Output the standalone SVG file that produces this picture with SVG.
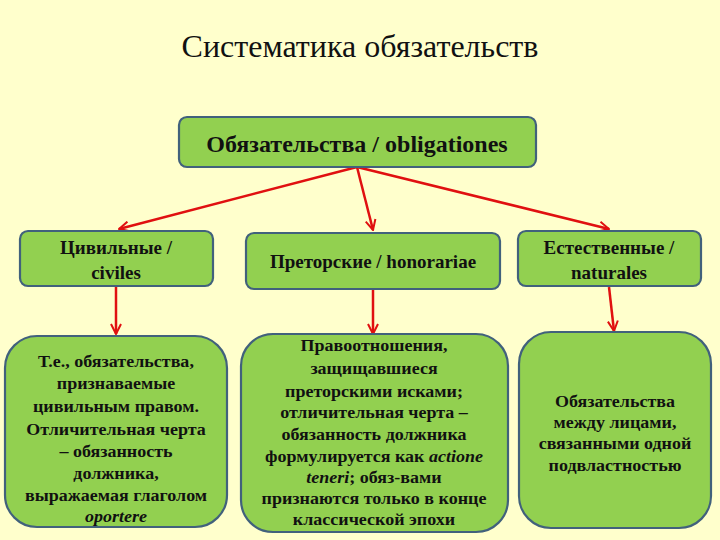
<svg xmlns="http://www.w3.org/2000/svg" width="720" height="540" viewBox="0 0 720 540">
<defs>
<marker id="ah" viewBox="0 0 12 12" refX="11" refY="6" markerWidth="12" markerHeight="12" markerUnits="userSpaceOnUse" orient="auto">
<path d="M1,1 L11,6 L1,11" fill="none" stroke="#E01010" stroke-width="2"/>
</marker>
<style>
.bx{fill:#92D050;stroke:#41617C;stroke-width:2.2}
.t{font-family:"Liberation Serif","Times New Roman",serif;font-weight:bold;fill:#111;text-anchor:middle}
.s{font-size:17px}
.m{font-size:19px}
.c{stroke:#E01010;stroke-width:2.5;fill:none;marker-end:url(#ah)}
</style>
</defs>
<rect width="720" height="540" fill="#FFFFCC"/>
<text x="360" y="57" font-family="Liberation Serif,serif" font-size="32" text-anchor="middle" fill="#111">Систематика обязательств</text>

<g id="connectors">
<line class="c" x1="357" y1="167" x2="119" y2="229"/>
<line class="c" x1="357" y1="167" x2="373" y2="230"/>
<line class="c" x1="357" y1="167" x2="609" y2="229"/>
<line class="c" x1="116" y1="287" x2="116" y2="334"/>
<line class="c" x1="373" y1="289" x2="373" y2="334"/>
<line class="c" x1="609" y1="287" x2="614" y2="331"/>
</g>

<g id="root">
<rect class="bx" x="179" y="117" width="357" height="50" rx="8"/>
<text class="t" x="357" y="152" font-size="24">Обязательства / obligationes</text>
</g>

<g id="civiles">
<rect class="bx" x="20" y="231" width="193" height="55" rx="8"/>
<text class="t m" x="116" y="254">Цивильные /</text>
<text class="t m" x="116" y="279">civiles</text>
</g>

<g id="honorariae">
<rect class="bx" x="246" y="233" width="254" height="56" rx="8"/>
<text class="t m" x="373" y="268">Преторские / honorariae</text>
</g>

<g id="naturales">
<rect class="bx" x="518" y="231" width="183" height="55" rx="8"/>
<text class="t m" x="609" y="254">Естественные /</text>
<text class="t m" x="609" y="279">naturales</text>
</g>

<g id="civiles-desc">
<rect class="bx" x="5" y="336" width="222" height="191" rx="32"/>
<g transform="translate(116 0) scale(1.06 1)">
<text class="t s" x="0" y="367">Т.е., обязательства,</text>
<text class="t s" x="0" y="389">признаваемые</text>
<text class="t s" x="0" y="412">цивильным правом.</text>
<text class="t s" x="0" y="435">Отличительная черта</text>
<text class="t s" x="0" y="457">– обязанность</text>
<text class="t s" x="0" y="479">должника,</text>
<text class="t s" x="0" y="501">выражаемая глаголом</text>
<text class="t s" x="0" y="522" font-style="italic">oportere</text>
</g>
</g>

<g id="honorariae-desc">
<rect class="bx" x="241" y="334" width="267" height="198" rx="32"/>
<g transform="translate(374 0) scale(1.06 1)">
<text class="t s" x="0" y="351">Правоотношения,</text>
<text class="t s" x="0" y="374">защищавшиеся</text>
<text class="t s" x="0" y="397">преторскими исками;</text>
<text class="t s" x="0" y="418">отличительная черта –</text>
<text class="t s" x="0" y="440">обязанность должника</text>
<text class="t s" x="0" y="462">формулируется как <tspan font-style="italic">actione</tspan></text>
<text class="t s" x="0" y="483"><tspan font-style="italic">teneri</tspan>; обяз-вами</text>
<text class="t s" x="0" y="504">признаются только в конце</text>
<text class="t s" x="0" y="525">классической эпохи</text>
</g>
</g>

<g id="naturales-desc">
<rect class="bx" x="519" y="332" width="192" height="196" rx="32"/>
<g transform="translate(615 0) scale(1.06 1)">
<text class="t s" x="0" y="407">Обязательства</text>
<text class="t s" x="0" y="428">между лицами,</text>
<text class="t s" x="0" y="449">связанными одной</text>
<text class="t s" x="0" y="471">подвластностью</text>
</g>
</g>
</svg>
